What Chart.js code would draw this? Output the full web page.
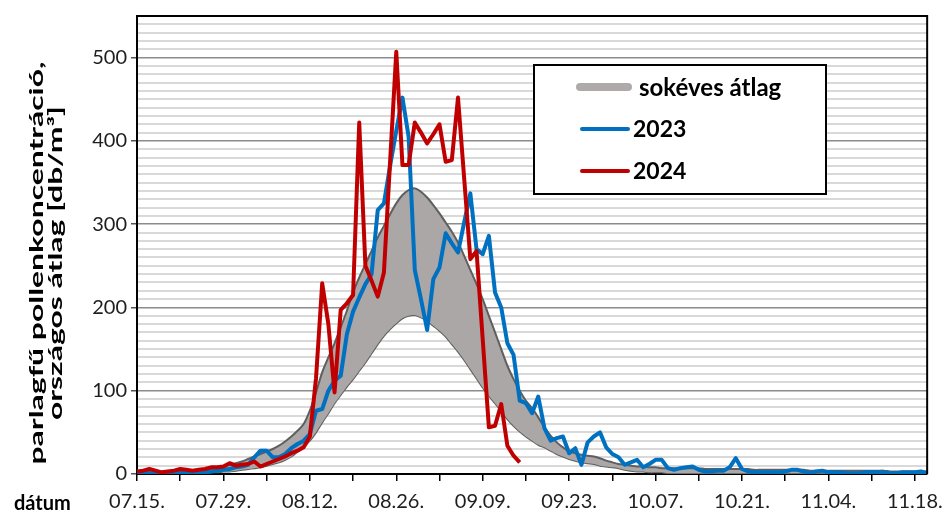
<!DOCTYPE html>
<html>
<head>
<meta charset="utf-8">
<script src="https://cdn.jsdelivr.net/npm/chart.js@4.4.1/dist/chart.umd.min.js"></script>
<style>
  html, body { margin: 0; padding: 0; background: #fff; }
  #wrap { width: 952px; height: 515px; position: relative; }
</style>
</head>
<body>
<div id="wrap"><canvas id="pollenChart" width="952" height="515"></canvas></div>
<script>
// day index 0 = 07.15., one value per day
const dateLabels = ['07.15.', '07.29.', '08.12.', '08.26.', '09.09.', '09.23.', '10.07.', '10.21.', '11.04.', '11.18.'];
const tickDays = [0, 7, 14, 21, 28, 35, 42, 49, 56, 63, 70, 77, 84, 91, 98, 105, 112, 119, 126];
const yTicks = [0, 100, 200, 300, 400, 500];

// sokéves átlag - upper and lower edge of the band
const avgUpper = [
  2, 2, 2, 2, 2, 2, 3, 3, 3, 3,
  4, 5, 6, 7, 9, 11, 13, 15, 18, 21,
  24, 27, 30, 34, 39, 45, 52, 60, 76, 98,
  122, 140, 157, 176, 196, 218, 236, 252, 268, 284,
  298, 312, 325, 335, 341, 343, 339, 332, 323, 313,
  302, 291, 278, 262, 245, 228, 210, 190, 170, 150,
  130, 114, 100, 88, 79, 68, 56, 46, 38, 32,
  27, 25, 23, 22, 21, 19, 16, 14, 12, 11,
  10, 9, 9, 8, 8, 7, 7, 7, 7, 7,
  7, 7, 6, 6, 6, 6, 6, 6, 6, 6,
  5, 5, 5, 5, 5, 5, 5, 5, 5, 4,
  4, 4, 4, 4, 4, 4, 4, 4, 4, 4,
  4, 4, 3, 3, 3, 3, 3, 3, 3
];
const avgLower = [
  0, 0, 0, 0, 0, 0, 0, 0, 1, 1,
  1, 1, 2, 2, 3, 3, 4, 5, 6, 7,
  8, 10, 12, 14, 17, 21, 27, 33, 40, 50,
  62, 73, 85, 95, 105, 114, 124, 134, 145, 156,
  166, 174, 181, 187, 190, 191, 188, 184, 178, 172,
  165, 156, 147, 137, 126, 115, 104, 94, 85, 76,
  66, 58, 51, 45, 40, 35, 32, 28, 24, 21,
  18, 16, 14, 13, 12, 10, 9, 8, 7, 5,
  4, 3, 3, 2, 2, 2, 1, 1, 1, 1,
  1, 1, 1, 1, 1, 1, 1, 1, 1, 1,
  1, 1, 1, 1, 1, 1, 1, 1, 1, 1,
  1, 1, 1, 1, 1, 1, 1, 1, 1, 1,
  1, 1, 1, 1, 1, 1, 1, 1, 1
];

const pollen2023 = [
  1, 1, 1, 0, 1, 1, 1, 2, 2, 1,
  2, 2, 3, 4, 5, 6, 8, 9, 11, 20,
  28, 28, 20, 20, 24, 31, 36, 40, 48, 76,
  78, 100, 112, 118, 168, 195, 212, 228, 240, 317,
  325, 370, 412, 452, 405, 245, 210, 173, 234, 248,
  289, 277, 266, 302, 337, 270, 264, 286, 218, 200,
  157, 143, 88, 85, 73, 93, 55, 40, 43, 45,
  25, 31, 11, 38, 45, 50, 32, 24, 20, 11,
  14, 17, 8, 12, 17, 17, 7, 5, 7, 8,
  9, 5, 3, 3, 4, 4, 8, 19, 6, 3,
  2, 2, 2, 2, 2, 3, 5, 5, 3, 1,
  3, 4, 2, 2, 2, 1, 1, 1, 2, 2,
  2, 2, 1, 1, 2, 2, 2, 3, 1
];

const pollen2024 = [
  3, 4, 6, 4, 2, 3, 4, 6, 5, 4,
  5, 6, 8, 8, 9, 13, 10, 11, 12, 15,
  9, 12, 15, 18, 21, 25, 28, 32, 45, 115,
  229, 180, 98, 197, 205, 215, 422, 250, 232, 213,
  242, 375, 507, 371, 371, 422, 410, 397, 408, 420,
  375, 377, 452, 355, 258, 268, 162, 56, 58, 84,
  34, 22, 14
];

const FONT = 'Lato, "Open Sans", sans-serif';
const BAND_FILL = '#aba7a7';
const BAND_EDGE = '#5f5f5f';
const BLUE = '#0070c0';
const RED = '#c00000';

function toPoints(values) {
    return values.map((v, i) => ({ x: i, y: v }));
}

/* ==========================
   EXTRA DRAWING: frame, legend, titles
========================== */
const extrasPlugin = {
    id: 'extras',
    afterDatasetsDraw(chart) {
        const ctx = chart.ctx;
        const a = chart.chartArea;
        ctx.save();

        // top + right frame
        ctx.strokeStyle = '#000';
        ctx.lineWidth = 2;
        ctx.beginPath();
        ctx.moveTo(a.left, a.top);
        ctx.lineTo(a.right, a.top);
        ctx.lineTo(a.right, a.bottom);
        ctx.stroke();

        // legend box
        const lx = 534, ly = 65, lw = 292, lh = 129;
        ctx.fillStyle = '#fff';
        ctx.fillRect(lx, ly, lw, lh);
        ctx.lineWidth = 2;
        ctx.strokeRect(lx, ly, lw, lh);

        const items = [
            { text: 'sokéves átlag', color: '#aeaaaa', width: 8, y: 87, size: 24 },
            { text: '2023', color: BLUE, width: 4, y: 129, size: 23 },
            { text: '2024', color: RED, width: 4, y: 171, size: 23 }
        ];
        ctx.lineCap = 'round';
        ctx.textBaseline = 'middle';
        ctx.textAlign = 'left';
        items.forEach((it, i) => {
            ctx.strokeStyle = it.color;
            ctx.lineWidth = it.width;
            ctx.beginPath();
            ctx.moveTo(i === 0 ? 580 : 582, it.y);
            ctx.lineTo(628, it.y);
            ctx.stroke();
            ctx.fillStyle = '#000';
            ctx.font = 'bold ' + it.size + 'px ' + FONT;
            ctx.fillText(it.text, i === 0 ? 639 : 633, it.y + 1);
        });

        // "dátum" caption left of the date labels
        ctx.font = 'bold 20px ' + FONT;
        ctx.fillStyle = '#000';
        ctx.fillText('dátum', 14, 504);

        // y axis title, two rotated lines (stretched along the text like the original)
        const lines = ['parlagfű pollenkoncentráció,', 'országos átlag [db/m³]'];
        const centersX = [37, 56];
        ctx.font = 'bold 18px ' + FONT;
        ctx.textAlign = 'center';
        const stretch = 403 / ctx.measureText(lines[0]).width;
        lines.forEach((t, i) => {
            ctx.save();
            ctx.translate(centersX[i], 263);
            ctx.rotate(-Math.PI / 2);
            ctx.scale(stretch, 1);
            ctx.fillText(t, 0, 0);
            ctx.restore();
        });

        ctx.restore();
    }
};

/* ==========================
   CHART
========================== */
function renderChart() {
    const ctx = document.getElementById('pollenChart').getContext('2d');

    new Chart(ctx, {
        type: 'line',
        data: {
            datasets: [{
                label: '2024',
                data: toPoints(pollen2024),
                borderColor: RED,
                borderWidth: 4,
                pointRadius: 0,
                tension: 0,
                fill: false,
                borderJoinStyle: 'round'
            }, {
                label: '2023',
                data: toPoints(pollen2023),
                borderColor: BLUE,
                borderWidth: 4,
                pointRadius: 0,
                tension: 0,
                fill: false,
                borderJoinStyle: 'round'
            }, {
                label: 'sokéves átlag',
                data: toPoints(avgUpper),
                borderColor: BAND_EDGE,
                borderWidth: 2,
                backgroundColor: BAND_FILL,
                pointRadius: 0,
                tension: 0.3,
                fill: '+1'
            }, {
                label: 'sokéves átlag alsó',
                data: toPoints(avgLower),
                borderColor: BAND_EDGE,
                borderWidth: 2,
                pointRadius: 0,
                tension: 0.3,
                fill: false
            }]
        },
        options: {
            responsive: false,
            animation: false,
            devicePixelRatio: 1,
            layout: { autoPadding: false, padding: { top: 12, right: 17, left: 0, bottom: 0 } },
            plugins: { legend: { display: false }, tooltip: { enabled: false } },
            scales: {
                x: {
                    type: 'linear',
                    min: 0,
                    max: 128,
                    afterBuildTicks: axis => { axis.ticks = tickDays.map(v => ({ value: v })); },
                    afterFit: axis => { axis.height = 41; },
                    border: { display: true, color: '#000', width: 2 },
                    grid: { drawOnChartArea: false, drawTicks: true, tickLength: 7, color: '#000', lineWidth: 1.5 },
                    ticks: {
                        autoSkip: false,
                        maxRotation: 0,
                        padding: 9,
                        color: '#1e1e1e',
                        font: { family: FONT, size: 20 },
                        callback: v => (v % 14 === 0 ? dateLabels[v / 14] : '')
                    }
                },
                y: {
                    min: 0,
                    max: 550,
                    afterBuildTicks: axis => {
                        const t = [];
                        for (let v = 0; v <= 550; v += 10) t.push({ value: v });
                        axis.ticks = t;
                    },
                    afterFit: axis => { axis.width = 137; },
                    border: { display: true, color: '#000', width: 2 },
                    grid: {
                        color: c => (c.tick && c.tick.value % 100 === 0 ? '#8c8c8c' : '#d9d9d9'),
                        lineWidth: c => (c.tick && c.tick.value % 100 === 0 ? 1.5 : 2),
                        tickColor: c => (c.tick && yTicks.includes(c.tick.value) ? '#555' : 'rgba(0,0,0,0)'),
                        tickLength: 6
                    },
                    ticks: {
                        autoSkip: false,
                        padding: 4,
                        color: '#1e1e1e',
                        font: { family: FONT, size: 20 },
                        callback: v => (yTicks.includes(v) ? v : '')
                    }
                }
            }
        },
        plugins: [extrasPlugin]
    });
}

renderChart();
</script>
</body>
</html>
